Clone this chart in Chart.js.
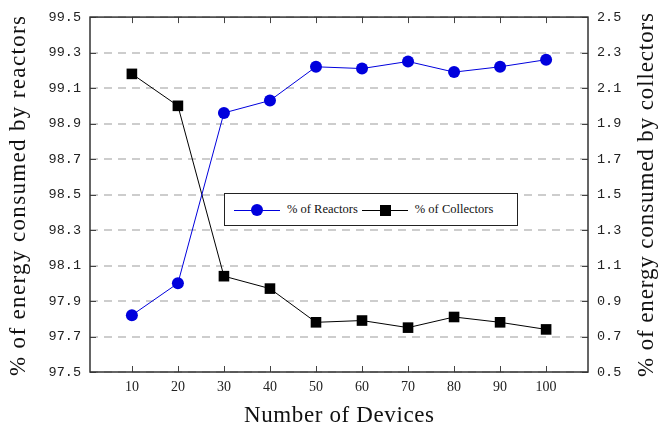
<!DOCTYPE html>
<html>
<head>
<meta charset="utf-8">
<script src="https://cdn.jsdelivr.net/npm/chart.js@4"></script>
<style>
  body { margin: 0; background: #fff; }
  #wrap { position: relative; width: 659px; height: 435px; }
  #legend {
    position: absolute; left: 224px; top: 193px; width: 294px; height: 33px;
    border: 1px solid #222; background: #fff; box-sizing: border-box;
    font-family: "Liberation Serif", serif; font-size: 12.5px; color: #111;
    display: flex; align-items: center; padding-left: 9px;
  }
  .item { display: flex; align-items: center; margin-right: 4px; }
  .sym { position: relative; width: 46px; height: 12px; margin-right: 7px; }
  .sym .ln { position: absolute; left: 0; right: 0; top: 6px; height: 1px; }
  .sym .mk { position: absolute; left: 17px; top: 0; width: 12px; height: 12px; }
</style>
</head>
<body>
<div id="wrap">
  <canvas id="chart" width="659" height="435"></canvas>
  <div id="legend">
    <div class="item"><div class="sym"><div class="ln" style="background:#0000dd"></div><div class="mk" style="background:#0000dd;border-radius:50%"></div></div>% of Reactors</div>
    <div class="item"><div class="sym"><div class="ln" style="background:#000"></div><div class="mk" style="background:#000;left:18px;width:11px;height:11px;top:1px"></div></div>% of Collectors</div>
  </div>
</div>
<script>
const devices = [10, 20, 30, 40, 50, 60, 70, 80, 90, 100];
const reactors = [97.82, 98.0, 98.96, 99.03, 99.22, 99.21, 99.25, 99.19, 99.22, 99.26];
const collectors = [2.18, 2.0, 1.04, 0.97, 0.78, 0.79, 0.75, 0.81, 0.78, 0.74];
const leftTicks = [97.5, 97.7, 97.9, 98.1, 98.3, 98.5, 98.7, 98.9, 99.1, 99.3, 99.5];
const rightTicks = [0.5, 0.7, 0.9, 1.1, 1.3, 1.5, 1.7, 1.9, 2.1, 2.3, 2.5];
const xTitle = "Number of Devices";
const leftTitle = "% of energy consumed by reactors";
const rightTitle = "% of energy consumed by collectors";

const yTickFont = { family: "Liberation Mono", size: 13.5 };
const xTickFont = { family: "Liberation Serif", size: 14 };

// draws text with a little letter spacing so it reaches the given width, centred on (cx, cy)
function drawSpread(ctx, text, cx, cy, width, angle) {
  ctx.save();
  ctx.font = '23px "Liberation Serif"';
  ctx.fillStyle = "#111";
  ctx.textAlign = "left";
  ctx.textBaseline = "middle";
  const w = ctx.measureText(text).width;
  const ls = Math.max(0, (width - w) / (text.length - 1));
  ctx.letterSpacing = ls + "px";
  const real = w + ls * (text.length - 1);
  ctx.translate(cx, cy);
  ctx.rotate(angle);
  ctx.fillText(text, -real / 2, 0);
  ctx.restore();
}

const dashedGrid = {
  id: "dashedGrid",
  beforeDatasetsDraw(chart) {
    const { ctx, chartArea: a, scales } = chart;
    ctx.save();
    ctx.strokeStyle = "#bdbdbd";
    ctx.lineWidth = 1.5;
    ctx.setLineDash([8, 6]);
    leftTicks.forEach(v => {
      const y = Math.round(scales.y.getPixelForValue(v));
      ctx.beginPath();
      ctx.moveTo(a.left, y); ctx.lineTo(a.right, y);
      ctx.stroke();
    });
    ctx.restore();
  }
};

// inward tick marks, frame, and axis titles
const frameAndTitles = {
  id: "frameAndTitles",
  afterDatasetsDraw(chart) {
    const { ctx, chartArea: a, scales } = chart;
    ctx.save();
    ctx.strokeStyle = "#444";
    ctx.lineWidth = 1;
    ctx.beginPath();
    devices.forEach(d => {
      const x = Math.round(scales.x.getPixelForValue(d)) + 0.5;
      ctx.moveTo(x, a.bottom); ctx.lineTo(x, a.bottom - 6);
      ctx.moveTo(x, a.top); ctx.lineTo(x, a.top + 6);
    });
    leftTicks.forEach(v => {
      const y = Math.round(scales.y.getPixelForValue(v)) + 0.5;
      ctx.moveTo(a.left, y); ctx.lineTo(a.left + 6, y);
    });
    rightTicks.forEach(v => {
      const y = Math.round(scales.y2.getPixelForValue(v)) + 0.5;
      ctx.moveTo(a.right, y); ctx.lineTo(a.right - 6, y);
    });
    ctx.stroke();
    ctx.strokeStyle = "#333";
    ctx.lineWidth = 1.5;
    ctx.strokeRect(a.left, a.top, a.right - a.left, a.bottom - a.top);
    ctx.restore();

    drawSpread(ctx, xTitle, (a.left + a.right) / 2, 416, 190, 0);
    drawSpread(ctx, leftTitle, 19, 196, 360, -Math.PI / 2);
    drawSpread(ctx, rightTitle, 647, 195, 364, -Math.PI / 2);
  }
};

new Chart(document.getElementById("chart"), {
  type: "line",
  data: {
    datasets: [
      {
        label: "% of Reactors",
        data: devices.map((d, i) => ({ x: d, y: reactors[i] })),
        yAxisID: "y",
        borderColor: "#0000dd",
        backgroundColor: "#0000dd",
        borderWidth: 1,
        pointStyle: "circle",
        pointRadius: 6,
        pointBorderWidth: 0
      },
      {
        label: "% of Collectors",
        data: devices.map((d, i) => ({ x: d, y: collectors[i] })),
        yAxisID: "y2",
        borderColor: "#000",
        backgroundColor: "#000",
        borderWidth: 1,
        pointStyle: "rect",
        pointRadius: 7.5,
        pointBorderWidth: 0
      }
    ]
  },
  options: {
    responsive: false,
    animation: false,
    layout: { padding: { top: 12, right: 0, left: 0, bottom: 0 } },
    plugins: { legend: { display: false }, tooltip: { enabled: false } },
    scales: {
      x: {
        type: "linear",
        min: 0.9,
        max: 109.1,
        afterBuildTicks: s => { s.ticks = devices.map(v => ({ value: v })); },
        afterFit: s => { s.height = 63; },
        grid: { display: false, drawTicks: false },
        border: { display: false },
        ticks: { font: xTickFont, color: "#222", padding: 7 }
      },
      y: {
        position: "left",
        min: 97.5,
        max: 99.5,
        afterBuildTicks: s => { s.ticks = leftTicks.map(v => ({ value: v })); },
        afterFit: s => { s.width = 90; },
        grid: { display: false, drawTicks: false },
        border: { display: false },
        ticks: { font: yTickFont, color: "#222", padding: 9, callback: v => v.toFixed(1) }
      },
      y2: {
        position: "right",
        min: 0.5,
        max: 2.5,
        afterBuildTicks: s => { s.ticks = rightTicks.map(v => ({ value: v })); },
        afterFit: s => { s.width = 71; },
        grid: { display: false, drawTicks: false },
        border: { display: false },
        ticks: { font: yTickFont, color: "#222", padding: 9, callback: v => v.toFixed(1) }
      }
    }
  },
  plugins: [dashedGrid, frameAndTitles]
});
</script>
</body>
</html>
